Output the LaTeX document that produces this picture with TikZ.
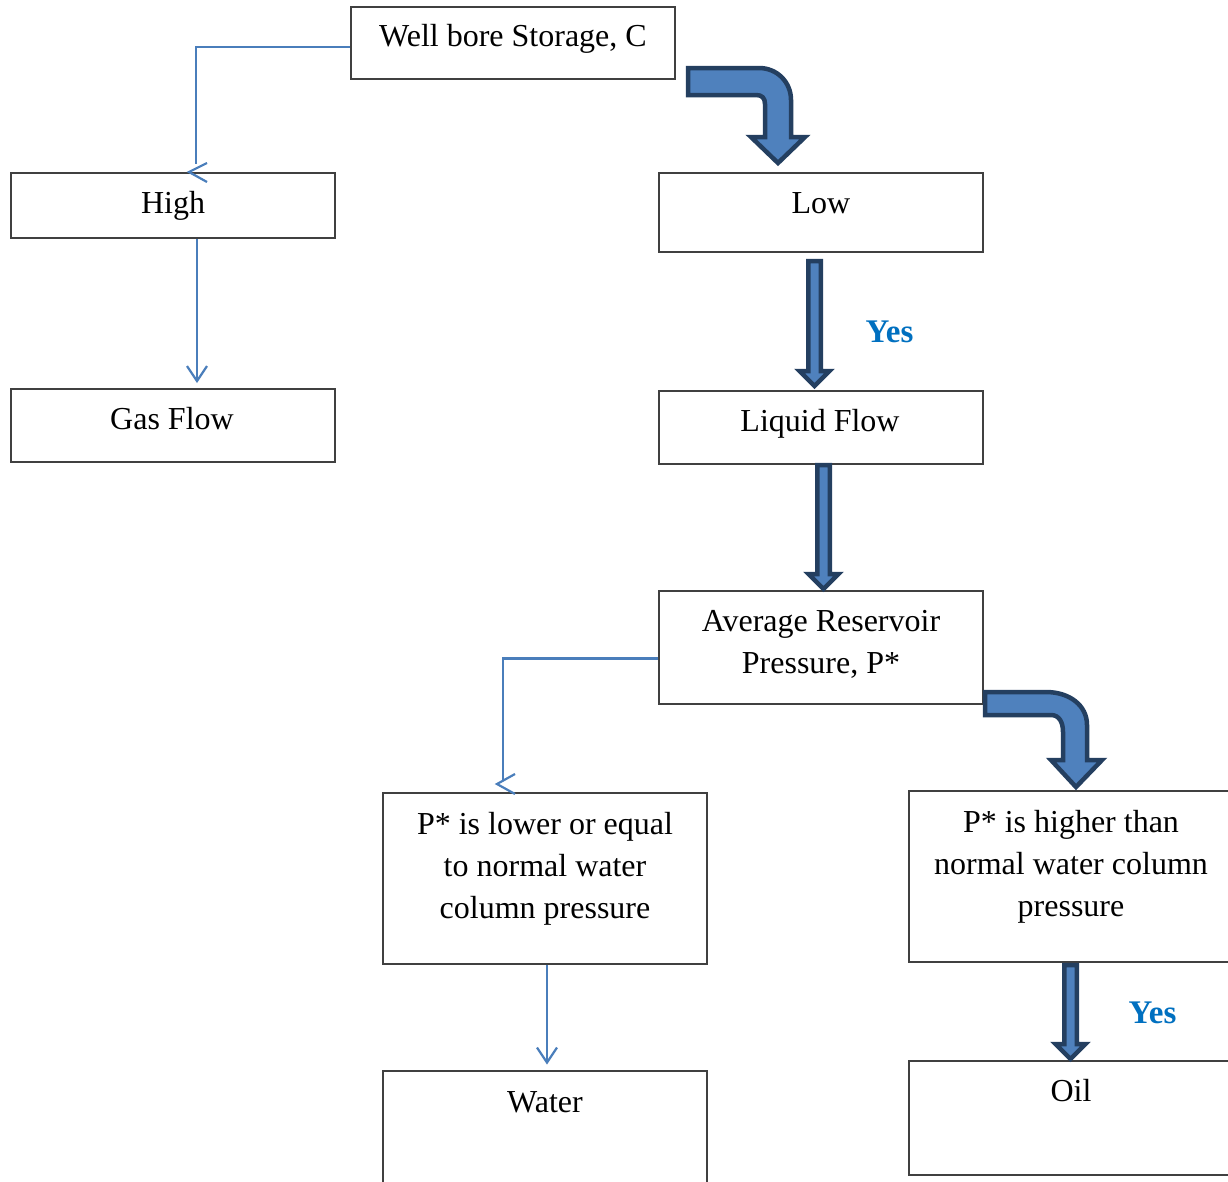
\documentclass[tikz,border=0pt]{standalone}
\usepackage{fontspec}
\setmainfont{Liberation Serif}
\usetikzlibrary{calc,arrows.meta}
\definecolor{boxline}{HTML}{404040}
\definecolor{connblue}{HTML}{4A7EBB}
\definecolor{fatfill}{HTML}{4F81BD}
\definecolor{fatline}{HTML}{243F60}
\definecolor{yesblue}{HTML}{0070C0}
\newcommand\fatdown[2]{\filldraw[fatarrow] let \p1=(#1), \p2=(#2) in
  (\x1-6.25pt,\y1) -- (\x1-6.25pt,\y2+15pt) -- (\x1-15pt,\y2+15pt) -- (\x1,\y2)
  -- (\x1+15pt,\y2+15pt) -- (\x1+6.25pt,\y2+15pt) -- (\x1+6.25pt,\y1) -- cycle;}
\begin{document}
\begin{tikzpicture}[x=1pt,y=-1pt,
  box/.style={draw=boxline, line width=2pt, rectangle, inner sep=0pt, minimum width=324pt},
  txt/.style={font=\fontsize{32}{42}\selectfont, inner sep=0pt, anchor=base, align=center},
  yestxt/.style={font=\fontsize{33}{36}\selectfont\bfseries, text=yesblue, inner sep=0pt, anchor=base},
  thinconn/.style={draw=connblue, line width=2.2pt},
  barb/.style={-{Straight Barb[length=15pt,width=20pt]}},
  fatarrow/.style={fill=fatfill, draw=fatline, line width=4.5pt, line join=miter}]
\useasboundingbox[fill=white] (0,0) rectangle (1228,1181);

% boxes
\node[box, minimum height=72pt]  (wb)     at (513,43)    {};
\node[box, minimum height=65pt]  (high)   at (173,205.5) {};
\node[box, minimum height=79pt]  (low)    at (821,212.5) {};
\node[box, minimum height=73pt]  (gas)    at (173,425.5) {};
\node[box, minimum height=73pt]  (liquid) at (821,427.5) {};
\node[box, minimum height=113pt] (avg)    at (821,647.5) {};
\node[box, minimum height=171pt] (lower)  at (545,878.5) {};
\node[box, minimum height=171pt] (higher) at (1071,876.5) {};
\node[box, minimum height=119pt] (water)  at (545,1130)  {};
\node[box, minimum height=114pt] (oil)    at (1071,1118) {};

% texts (base = baseline of last line)
\node[txt] (twb)     at (513,46)   {Well bore Storage, C};
\node[txt] (thigh)   at (173,213)  {High};
\node[txt] (tlow)    at (821,213)  {Low};
\node[txt] (tgas)    at (172,429)  {Gas Flow};
\node[txt] (tliquid) at (820,431)  {Liquid Flow};
\node[txt] (tavg)    at (821,673)  {Average Reservoir\\Pressure, P*};
\node[txt] (tlower)  at (545,918)  {P* is lower or equal\\to normal water\\column pressure};
\node[txt] (thigher) at (1071,916) {P* is higher than\\normal water column\\pressure};
\node[txt] (twater)  at (545,1112) {Water};
\node[txt] (toil)    at (1071,1101) {Oil};
\node[yestxt] (yes1) at (889.5,342) {Yes};
\node[yestxt] (yes2) at (1152.5,1023) {Yes};

% thin connectors
\draw[thinconn] ($(wb.west)+(0,4)$) -| ($(high.north)+(23,-8)$);
\draw[thinconn] ($(high.north)+(34,-9)$) -- ($(high.north)+(16,0)$) -- ($(high.north)+(34,10)$);
\draw[thinconn, barb] ($(high.south)+(24,0)$) -- ($(gas.north)+(24,-5)$);
\draw[thinconn] ($(avg.west)+(0,11)$) -| ($(lower.north)+(-42,-11)$);
\draw[thinconn] ($(lower.north)+(-30,-18)$) -- ($(lower.north)+(-48,-8)$) -- ($(lower.north)+(-30,2)$);
\draw[thinconn, barb] ($(lower.south)+(2,0)$) -- ($(water.north)+(2,-5)$);

% fat straight arrows
\coordinate (f1s) at ($(low.south)+(-6.5,8)$);
\coordinate (f1e) at ($(liquid.north)+(-6.5,-4)$);
\coordinate (f2s) at ($(liquid.south)+(2.5,0)$);
\coordinate (f2e) at ($(avg.north)+(2.5,-1)$);
\coordinate (f3s) at ($(higher.south)+(-0.5,2)$);
\coordinate (f3e) at ($(oil.north)+(-0.5,-1)$);
\fatdown{f1s}{f1e}
\fatdown{f2s}{f2e}
\fatdown{f3s}{f3e}

% bent arrows
\coordinate (b1) at ($(wb.east)+(12,25)$);
\filldraw[fatarrow] (b1) -- ++(71,0)
  .. controls +(18,0) and +(0,-18) .. ++(32,32)
  -- ++(0,37) -- ++(14,0) -- ++(-27,26) -- ++(-27,-26) -- ++(14,0) -- ++(0,-33)
  .. controls +(0,-6) and +(6,0) .. ++(-9,-9)
  -- ++(-68,0) -- cycle;
\coordinate (b2) at ($(avg.east)+(1,44.5)$);
\filldraw[fatarrow] (b2) -- ++(61,0)
  .. controls +(23,0) and +(0,-20) .. ++(41,33)
  -- ++(0,35) -- ++(15,0) -- ++(-26,27) -- ++(-25,-27) -- ++(12,0) -- ++(0,-28)
  .. controls +(0,-10) and +(8,0) .. ++(-12,-17)
  -- ++(-66,0) -- cycle;
\end{tikzpicture}
\end{document}
